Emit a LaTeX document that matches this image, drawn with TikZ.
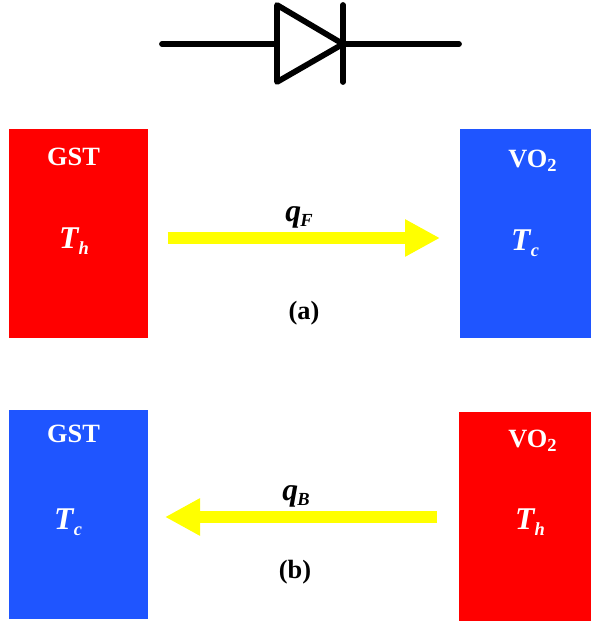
\documentclass[tikz,border=0pt]{standalone}
\usepackage{fontspec}
\setmainfont{Liberation Serif}
\usepackage{tikz}
\usetikzlibrary{arrows.meta}
\definecolor{hotred}{HTML}{FF0000}
\definecolor{coldblue}{HTML}{1F55FF}
\definecolor{fluxyellow}{HTML}{FFFF00}
\newcommand{\tempsym}[2]{\textit{#1}\kern-0.02em\raisebox{-0.38ex}{\fontsize{10.5}{12}\selectfont\textit{#2}}}
\tikzset{
  slab/.style={inner sep=0pt, outer sep=0pt, anchor=south west},
  matlabel/.style={text=white, font=\fontsize{15}{16}\selectfont\bfseries},
  templabel/.style={text=white, font=\fontsize{18}{20}\selectfont\bfseries},
  fluxlabel/.style={text=black, font=\fontsize{18}{20}\selectfont\bfseries},
  caplabel/.style={text=black, font=\fontsize{15}{16}\selectfont\bfseries},
  fluxarrow/.style={-{Triangle[length=0.7cm,width=0.7cm]}, line width=0.24cm, fluxyellow},
  wire/.style={line width=0.115cm, line cap=round, line join=round, black}
}

\begin{document}
\begin{tikzpicture}[x=1cm, y=1cm]
    \useasboundingbox (0,0) rectangle (11.82,12.44);
    % diode
    \coordinate (w1) at (3.24,11.56);
    \coordinate (w2) at (9.18,11.56);
    \coordinate (d1) at (5.54,12.34);
    \coordinate (d2) at (5.54,10.8);
    \coordinate (d3) at (6.86,11.56);
    \coordinate (b1) at (6.86,12.34);
    \coordinate (b2) at (6.86,10.8);
    \draw[wire] (w1) -- (w2);
    \draw[wire, fill=white] (d1) -- (d3) -- (d2) -- cycle;
    \draw[wire] (b1) -- (b2);
    % case (a)
    \node[slab, fill=hotred, minimum width=2.78cm, minimum height=4.18cm] (gsta) at (0.18,5.68) {};
    \node[slab, fill=coldblue, minimum width=2.62cm, minimum height=4.18cm] (voa) at (9.2,5.68) {};
    \node[matlabel] (gstalab) at (1.47,9.3) {GST};
    \node[matlabel] (voalab) at (10.66,9.22) {VO\textsubscript{2}};
    \node[templabel] (tha) at (1.48,7.62) {\tempsym{T}{h}};
    \node[templabel] (tca) at (10.5,7.58) {\tempsym{T}{c}};
    \coordinate (fa) at (3.35,7.68);
    \coordinate (ta) at (8.8,7.68);
    \draw[fluxarrow] (fa) -- (ta);
    \node[fluxlabel] (qf) at (5.98,8.1) {\tempsym{q}{F}};
    \node[caplabel] (capa) at (6.08,6.18) {(a)};
    % case (b)
    \node[slab, fill=coldblue, minimum width=2.78cm, minimum height=4.18cm] (gstb) at (0.18,0.06) {};
    \node[slab, fill=hotred, minimum width=2.64cm, minimum height=4.18cm] (vob) at (9.18,0.02) {};
    \node[matlabel] (gstblab) at (1.47,3.76) {GST};
    \node[matlabel] (voblab) at (10.66,3.62) {VO\textsubscript{2}};
    \node[templabel] (tcb) at (1.36,2) {\tempsym{T}{c}};
    \node[templabel] (thb) at (10.6,2) {\tempsym{T}{h}};
    \coordinate (fb) at (8.74,2.1);
    \coordinate (tb) at (3.3,2.1);
    \draw[fluxarrow] (fb) -- (tb);
    \node[fluxlabel] (qb) at (5.92,2.52) {\tempsym{q}{B}};
    \node[caplabel] (capb) at (5.9,1.0) {(b)};
\end{tikzpicture}
\end{document}
